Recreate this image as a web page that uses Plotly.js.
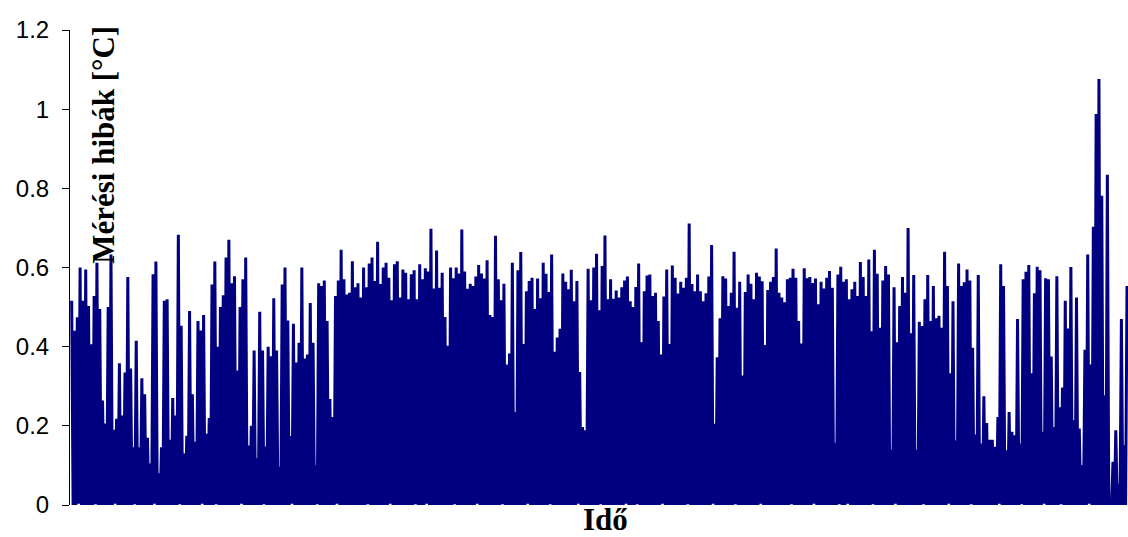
<!DOCTYPE html>
<html><head><meta charset="utf-8">
<script src="https://cdn.plot.ly/plotly-3.0.1.min.js"></script>
<style>html,body{margin:0;padding:0;background:#fff}#chart{width:1128px;height:537px}</style>
</head><body><div id="chart"></div>
<script>
// local maxima of the error signal, read left to right
const errPeaks = [
0.516,0.44,0.474,0.60,0.516,0.595,0.503,0.406,0.528,0.612,0.495,0.264,0.206,0.50,0.633,0.19,0.218,0.358,0.226,0.335,0.576,0.345,0.146,0.415,0.146,0.32,0.28,0.17,0.105,0.583,0.615,0.08,0.146,0.516,0.52,0.165,0.27,0.226,0.683,0.453,0.13,0.175,0.49,0.28,0.16,0.465,0.441,0.48,0.18,
0.22,0.557,0.615,0.40,0.50,0.53,0.625,0.67,0.56,0.578,0.34,0.50,0.57,0.625,0.15,0.20,0.39,0.118,0.488,0.39,0.148,0.40,0.376,0.522,0.39,0.096,0.557,0.60,0.466,0.174,0.458,0.36,
0.41,0.60,0.37,0.38,0.51,0.41,0.10,0.56,0.553,0.567,0.465,0.268,0.222,0.528,0.567,0.645,0.57,0.532,0.536,0.616,0.55,0.56,0.524,0.60,0.55,0.61,0.625,0.566,0.665,0.558,0.60,0.612,0.574,0.517,0.608,0.616,0.524,0.595,0.587,0.52,0.583,0.593,0.52,0.608,0.57,0.598,
0.59,0.698,0.547,0.643,0.549,0.587,0.475,0.402,0.60,0.573,0.60,0.585,0.696,0.59,0.546,0.559,0.553,0.577,0.606,0.585,0.572,0.618,0.48,0.475,0.68,0.57,0.517,0.559,0.355,0.383,0.612,0.235,0.593,0.639,0.407,0.54,0.566,0.574,0.495,0.572,0.522,0.612,0.584,
0.538,0.633,0.387,0.423,0.445,0.585,0.564,0.545,0.594,0.515,0.566,0.336,0.197,0.189,0.597,0.517,0.60,0.635,0.492,0.604,0.681,0.52,0.57,0.521,0.542,0.524,0.55,0.567,0.577,0.515,0.50,0.551,0.61,0.411,0.54,0.58,0.582,0.528,0.536,0.465,0.38,0.527,0.595,
0.407,0.605,0.574,0.534,0.564,0.549,0.574,0.711,0.558,0.54,0.582,0.54,0.515,0.535,0.577,0.657,0.205,0.373,0.472,0.578,0.572,0.503,0.536,0.64,0.498,0.564,0.327,0.538,0.582,0.559,0.52,0.587,0.577,0.565,0.404,0.543,0.564,0.576,0.648,0.536,0.524,0.512,0.57,
0.574,0.597,0.574,0.465,0.408,0.598,0.573,0.576,0.561,0.572,0.507,0.564,0.547,0.574,0.591,0.549,0.157,0.582,0.602,0.564,0.57,0.52,0.545,0.564,0.528,0.614,0.576,0.528,0.62,0.439,0.645,0.584,0.448,0.567,0.604,0.582,0.14,0.55,0.411,0.503,0.576,0.536,
0.70,0.434,0.581,0.14,0.463,0.452,0.52,0.581,0.465,0.553,0.472,0.478,0.448,0.64,0.553,0.333,0.515,0.163,0.61,0.553,0.563,0.595,0.567,0.397,0.178,0.581,0.155,0.275,0.207,0.165,0.165,0.147,0.222,0.608,0.553,
0.138,0.235,0.185,0.176,0.47,0.155,0.57,0.589,0.606,0.333,0.535,0.602,0.593,0.185,0.573,0.57,0.375,0.197,0.578,0.247,0.297,0.516,0.446,0.601,0.214,0.524,0.193,0.101,0.392,0.633,0.355,0.703,0.988,1.076,0.781,0.277,0.834,0.004,0.109,0.189,0.054,0.47,0.151,0.553
];
// minima between consecutive peaks (the signal drops to about zero)
const errLows = [
0,0,0.003,0,0,0,0,0,0.002,0,0,0,0,0,0,0.003,0,0,0,0,0,0,0.002,0,0,
0,0,0,0,0.003,0,0,0,0,0,0,0,0,0.002,0,0,0,0,0,0,0,0.003,0,0,0,
0,0.002,0,0,0,0,0,0,0,0,0.003,0,0,0,0,0,0,0,0.002,0,0,0,0,0,0,
0,0,0,0.003,0,0,0,0,0,0,0,0,0.002,0,0,0,0,0,0,0.003,0,0,0,0,0,
0,0,0,0,0,0.002,0,0,0,0,0,0,0,0.003,0,0,0,0,0,0,0,0,0.002,0,0,
0,0.003,0,0,0,0,0,0,0,0,0,0.002,0,0,0,0,0,0,0,0.003,0,0,0,0,0,
0,0,0,0.002,0,0,0,0,0,0,0,0,0.003,0,0,0,0,0,0,0,0.002,0,0,0,0,
0,0,0,0,0,0.003,0,0,0,0,0,0,0,0.002,0,0,0,0,0,0,0,0,0.003,0,0,
0,0.002,0,0,0,0,0,0,0,0,0.003,0,0,0,0,0,0,0,0,0.002,0,0,0,0,0,
0,0,0,0.003,0,0,0,0,0,0,0,0.002,0,0,0,0,0,0,0,0,0.003,0,0,0,0,
0,0,0,0,0,0,0.002,0,0,0,0,0,0,0,0.003,0,0,0,0,0,0,0,0,0.002,0,
0,0.003,0,0,0,0,0,0,0,0,0.002,0,0,0,0,0,0,0,0.003,0,0,0,0,0,0,
0,0,0,0.002,0,0,0,0,0,0,0,0,0.003,0,0,0,0,0,0,0,0.002,0,0,0,0,
0,0,0,0,0,0.003,0,0,0,0,0,0,0,0.002,0,0,0,0,0,0,0,0.003,0,0,0,
0,0,0.002,0,0,0,0,0,0,0,0,0,0.003,0,0,0,0,0,0,0,0,0,0,0,0,0
];
const yTickVals = [0, 0.2, 0.4, 0.6, 0.8, 1, 1.2];
const yTickText = ['0', '0.2', '0.4', '0.6', '0.8', '1', '1.2'];
const xTitleText = 'Idő';
const yTitleText = 'Mérési hibák [°C]';

const ySeries = [];
for (let i = 0; i < errPeaks.length; i++) {
  ySeries.push(errPeaks[i]);
  if (i < errPeaks.length - 1) ySeries.push(errLows[i]);
}
const tSeries = ySeries.map((_, i) => i);

const trace = {
  type: 'scatter', mode: 'lines', x: tSeries, y: ySeries,
  line: {color: '#000080', width: 3, shape: 'linear'},
  hoverinfo: 'skip', showlegend: false
};

const layout = {
  width: 1128, height: 537,
  margin: {l: 70, r: 0, t: 30, b: 32, pad: 0},
  paper_bgcolor: '#ffffff', plot_bgcolor: '#ffffff',
  showlegend: false,
  xaxis: {
    range: [-1.2, tSeries.length - 0.3],
    showticklabels: false, ticks: '', showline: false, showgrid: false, zeroline: false
  },
  yaxis: {
    range: [0, 1.2], tickvals: yTickVals, ticktext: yTickText,
    ticks: 'outside', ticklen: 7, tickwidth: 1, tickcolor: '#000',
    showline: true, linecolor: '#000', linewidth: 1,
    showgrid: false, zeroline: false, ticklabelstandoff: 8,
    tickfont: {family: 'Liberation Sans, Arial, sans-serif', size: 24, color: '#000'}
  },
  annotations: [
    {text: '<b>' + yTitleText + '</b>', xref: 'paper', yref: 'paper',
     x: 0.032, y: 0.758, xanchor: 'center', yanchor: 'middle', textangle: -90, showarrow: false,
     font: {family: 'Liberation Serif, Times New Roman, serif', size: 31, color: '#000'}},
    {text: '<b>' + xTitleText + '</b>', xref: 'paper', yref: 'paper',
     x: 0.506, y: 0, xanchor: 'center', yanchor: 'top', yshift: 5, showarrow: false,
     font: {family: 'Liberation Serif, Times New Roman, serif', size: 31, color: '#000'}}
  ]
};

Plotly.newPlot('chart', [trace], layout, {staticPlot: true, displayModeBar: false});
</script>
</body></html>
